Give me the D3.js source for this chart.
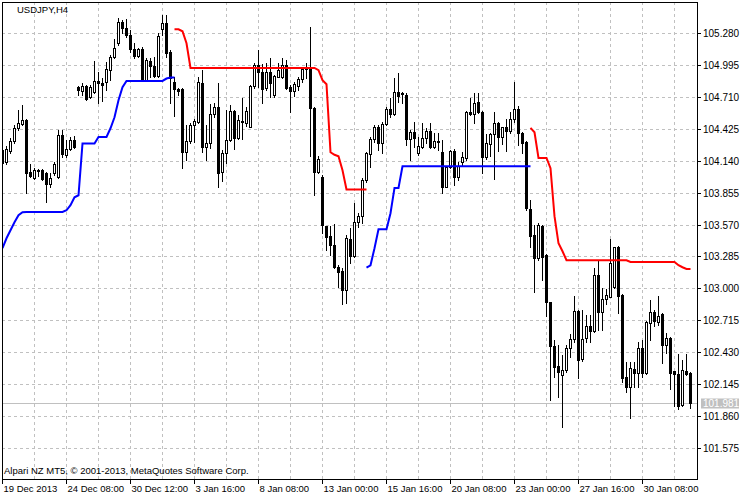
<!DOCTYPE html>
<html><head><meta charset="utf-8">
<script src="https://cdn.jsdelivr.net/npm/d3@7"></script>
<style>
html,body{margin:0;padding:0;background:#fff;}
svg{display:block;}
text{font-family:"Liberation Sans",Arial,sans-serif;font-size:9.5px;}
text.p{font-size:10px;}
</style></head><body>
<svg id="c" width="750" height="500"></svg>
<script>
const symbolTitle = "USDJPY,H4";
const footerText = "Alpari NZ MT5, \u00A9 2001-2013, MetaQuotes Software Corp.";
const priceTicks = [105.280,104.995,104.710,104.425,104.140,103.855,103.570,103.285,103.000,102.715,102.430,102.145,101.860,101.575];
const timeLabels = ["19 Dec 2013","24 Dec 08:00","30 Dec 12:00","3 Jan 16:00","8 Jan 08:00","13 Jan 00:00","15 Jan 16:00","20 Jan 08:00","23 Jan 00:00","27 Jan 16:00","30 Jan 08:00"];
const timeLabelBars = [0,16,32,48,64,80,96,112,128,144,160];
const lastPrice = 101.981;

const open = [104.238,104.131,104.229,104.318,104.434,104.470,104.506,104.041,103.988,104.059,
104.059,104.032,103.934,104.032,103.997,104.372,104.193,104.247,104.327,104.800,
104.765,104.809,104.711,104.756,104.854,104.836,104.845,104.952,105.068,105.193,
105.381,105.327,105.264,105.139,105.077,105.139,104.863,105.032,104.988,104.899,
105.318,105.372,105.113,104.845,104.782,104.782,104.220,104.318,104.461,104.488,
104.836,104.265,104.300,104.559,104.622,104.041,104.211,104.327,104.586,104.345,
104.497,104.479,104.443,104.809,104.997,104.934,104.791,104.934,104.729,104.890,
104.890,104.997,104.800,104.765,104.809,104.872,104.961,104.970,104.613,104.041,
103.997,103.559,103.470,103.390,103.193,103.157,102.988,103.443,103.291,103.595,
103.648,103.970,104.202,104.336,104.443,104.300,104.470,104.604,104.559,104.756,
104.747,104.729,104.336,104.398,104.211,104.265,104.345,104.407,104.265,104.318,
104.220,103.908,104.086,104.229,103.997,104.131,104.166,104.577,104.559,104.666,
104.577,104.175,104.291,104.381,104.479,104.354,104.443,104.407,104.515,104.604,
104.390,104.309,103.711,103.479,103.274,103.559,103.300,102.881,102.488,102.309,
102.229,102.274,102.470,102.550,102.800,102.372,102.559,102.666,102.622,103.122,
102.791,102.908,102.925,103.014,103.372,102.943,102.211,102.122,102.283,102.247,
102.470,102.247,102.693,102.791,102.702,102.774,102.497,102.559,102.265,102.238,
101.961,102.265,102.247];
const high = [104.256,104.274,104.345,104.461,104.595,104.640,104.515,104.113,104.077,104.068,
104.068,104.041,104.032,104.131,104.416,104.416,104.327,104.354,104.363,104.809,
104.836,104.818,104.818,105.032,104.934,104.881,105.023,105.086,105.229,105.416,
105.398,105.407,105.309,105.193,105.148,105.157,105.059,105.059,105.068,105.282,
105.443,105.443,105.131,104.890,104.791,104.791,104.461,104.479,104.515,104.890,
104.952,104.461,104.649,104.657,104.836,104.238,104.595,104.640,104.595,104.550,
104.702,104.622,104.818,105.014,105.131,105.005,105.014,105.059,104.908,105.014,
105.059,105.041,104.818,104.845,104.890,104.979,105.014,105.336,104.622,104.184,
104.014,103.559,103.559,103.577,103.211,103.184,103.479,103.541,103.765,103.675,
103.988,104.220,104.354,104.461,104.461,104.488,104.622,104.702,104.881,104.925,
104.756,104.747,104.416,104.488,104.354,104.479,104.434,104.479,104.390,104.390,
104.327,104.095,104.238,104.247,104.131,104.220,104.586,104.702,104.747,104.747,
104.586,104.381,104.390,104.577,104.488,104.443,104.515,104.577,104.845,104.631,
104.398,104.318,103.791,103.568,103.586,103.568,103.309,102.881,102.541,102.497,
102.407,102.497,102.595,102.934,102.809,102.809,102.764,102.764,103.184,103.247,
103.006,102.997,103.443,103.372,103.381,102.952,102.345,102.345,102.345,102.524,
102.541,102.711,102.899,102.809,102.934,102.782,102.604,102.568,102.265,102.416,
102.363,102.416,102.256];
const low = [104.113,104.113,104.211,104.300,104.416,104.461,103.854,103.997,103.979,104.005,
103.970,103.773,103.908,104.014,103.988,104.175,104.175,104.238,104.256,104.729,
104.729,104.684,104.702,104.747,104.657,104.675,104.774,104.863,105.059,105.175,
105.282,105.247,105.113,105.059,105.068,104.854,104.854,104.890,104.890,104.890,
105.264,105.068,104.657,104.541,104.729,104.077,104.149,104.300,104.309,104.479,
104.220,104.149,104.256,104.532,103.908,103.961,104.122,104.318,104.247,104.336,
104.336,104.452,104.443,104.791,104.800,104.657,104.774,104.711,104.711,104.890,
104.881,104.782,104.577,104.720,104.774,104.845,104.881,104.184,103.836,104.032,
103.497,103.345,103.300,103.184,103.014,102.863,102.872,103.229,103.282,103.550,
103.586,103.952,104.086,104.309,104.238,104.211,104.461,104.532,104.550,104.666,
104.657,104.282,104.149,104.265,104.193,104.256,104.300,104.256,104.256,104.238,
103.854,103.908,104.077,103.925,103.970,104.095,104.149,104.550,104.479,104.568,
104.032,104.157,104.184,103.979,104.229,104.291,104.229,104.390,104.488,104.282,
104.211,103.702,103.372,102.970,103.256,103.077,102.756,102.006,102.211,102.032,
101.765,102.256,102.390,102.524,102.202,102.354,102.524,102.524,102.613,102.631,
102.631,102.863,102.925,103.006,102.782,102.166,102.077,101.845,102.122,102.122,
102.211,102.238,102.541,102.666,102.675,102.336,102.425,102.104,101.952,101.925,
101.952,102.229,101.934];
const close = [104.122,104.247,104.318,104.434,104.479,104.506,104.032,104.005,104.059,104.050,
103.979,103.934,103.988,104.113,104.372,104.202,104.247,104.327,104.265,104.774,
104.809,104.693,104.800,104.854,104.836,104.818,104.961,105.068,105.148,105.381,
105.327,105.264,105.139,105.077,105.139,104.863,105.041,104.988,104.899,105.256,
105.372,105.104,104.881,104.782,104.765,104.220,104.318,104.461,104.497,104.845,
104.265,104.300,104.559,104.622,104.032,104.211,104.327,104.586,104.345,104.506,
104.488,104.586,104.809,104.997,104.934,104.782,104.934,104.836,104.899,104.952,
104.997,104.791,104.765,104.827,104.872,104.961,104.970,104.613,104.041,104.157,
103.568,103.461,103.390,103.193,103.148,102.988,103.452,103.291,103.595,103.648,
103.970,104.211,104.336,104.443,104.300,104.470,104.604,104.559,104.756,104.720,
104.738,104.336,104.398,104.345,104.274,104.345,104.407,104.265,104.318,104.309,
103.908,104.086,104.229,103.997,104.095,104.175,104.577,104.559,104.657,104.577,
104.175,104.300,104.381,104.479,104.354,104.443,104.407,104.515,104.604,104.390,
104.300,103.720,103.470,103.274,103.568,103.282,102.881,102.488,102.300,102.256,
102.274,102.470,102.550,102.800,102.363,102.550,102.666,102.622,103.122,102.791,
102.908,102.943,103.229,103.372,102.934,102.202,102.122,102.292,102.247,102.470,
102.247,102.702,102.791,102.711,102.756,102.497,102.559,102.247,102.238,101.952,
102.274,102.238,101.981];

// trailing stop indicator segments (support = blue, resistance = red)
const supportA_start = 0;
const supportA = [103.363,103.452,103.524,103.595,103.657,103.684,103.687,103.687,103.687,103.687,
103.687,103.687,103.687,103.687,103.687,103.687,103.702,103.747,103.818,103.836,
104.298,104.298,104.298,104.298,104.357,104.357,104.357,104.434,104.532,104.684,
104.800,104.857,104.857,104.857,104.857,104.857,104.857,104.857,104.857,104.857,
104.857,104.878,104.887,104.887];
const resistA_start = 43;
const resistA = [105.318,105.318,105.300,105.193,104.973,104.973,104.973,104.973,104.973,104.973,
104.973,104.973,104.973,104.973,104.973,104.973,104.973,104.973,104.973,104.973,
104.973,104.973,104.973,104.973,104.973,104.973,104.973,104.973,104.973,104.973,
104.973,104.973,104.973,104.973,104.973,104.973,104.952,104.863,104.827,104.220,
104.197,104.184,104.059,103.887,103.887,103.887,103.887,103.887,103.887];
const supportB_start = 91;
const supportB = [103.190,103.211,103.363,103.533,103.533,103.533,103.675,103.901,103.901,104.095,
104.095,104.095,104.095,104.095,104.095,104.095,104.095,104.095,104.095,104.095,
104.095,104.095,104.095,104.095,104.095,104.095,104.095,104.095,104.095,104.095,
104.095,104.095,104.095,104.095,104.095,104.095,104.095,104.095,104.095,104.095,
104.095,104.095];
const resistB_start = 132;
const resistB = [104.437,104.398,104.169,104.169,104.169,104.077,103.649,103.407,103.336,103.256,
103.256,103.256,103.256,103.256,103.256,103.256,103.256,103.256,103.256,103.256,
103.256,103.256,103.256,103.256,103.256,103.241,103.241,103.241,103.241,103.241,
103.241,103.241,103.241,103.241,103.241,103.241,103.241,103.211,103.193,103.178,
103.178];

const svg = d3.select("#c");
const L = 2, R = 697, T = 2, B = 479;
const x = d3.scaleLinear().domain([0, 172]).range([2.5, 690.5]);
const y = d3.scaleLinear().domain([101.575, 105.280]).range([448.5, 33.5]);
const cy = v => Math.floor(y(v)) + 0.5;

svg.append("rect").attr("width",750).attr("height",500).attr("fill","#fff");
svg.append("defs").append("clipPath").attr("id","plot")
  .append("rect").attr("x",L).attr("y",T).attr("width",R-L).attr("height",B-T);

const grid = svg.append("g").attr("stroke","#c0c0c0").attr("stroke-dasharray","3,3").attr("stroke-width",1);
const vBars = d3.range(8, 173, 8);
grid.selectAll("line.v").data(vBars).join("line")
  .attr("x1", d => x(d)).attr("x2", d => x(d)).attr("y1", T).attr("y2", B);
grid.selectAll("line.h").data(priceTicks).join("line")
  .attr("x1", L).attr("x2", R).attr("y1", d => cy(d)).attr("y2", d => cy(d));

// last price line
svg.append("line").attr("x1",L).attr("x2",R).attr("y1",cy(lastPrice)).attr("y2",cy(lastPrice))
  .attr("stroke","#c0c0c0").attr("stroke-width",1);

const plot = svg.append("g").attr("clip-path","url(#plot)");
const bars = d3.range(open.length).map(i => ({i, o:open[i], h:high[i], l:low[i], c:close[i]}));

plot.append("g").selectAll("line").data(bars).join("line")
  .attr("x1", d => x(d.i)).attr("x2", d => x(d.i))
  .attr("y1", d => Math.round(y(d.h))).attr("y2", d => Math.round(y(d.l)) + 1)
  .attr("stroke","#000").attr("stroke-width",1);

bars.forEach(d => {
  const top = Math.round(y(Math.max(d.o, d.c)));
  const bot = Math.round(y(Math.min(d.o, d.c)));
  const cx = x(d.i);
  if (d.c > d.o) {
    plot.append("rect").attr("x", cx - 1).attr("y", top + 0.5)
      .attr("width", 2).attr("height", Math.max(bot - top, 1))
      .attr("fill","#fff").attr("stroke","#000").attr("stroke-width",1);
  } else {
    plot.append("rect").attr("x", cx - 1.5).attr("y", top)
      .attr("width", 3).attr("height", Math.max(bot - top, 1) + 1)
      .attr("fill","#000");
  }
});

const line = s => d3.line().x((d,k) => x(s + k)).y(d => y(d));
plot.append("path").datum(supportA).attr("d", line(supportA_start)).attr("fill","none").attr("stroke","#0000ff").attr("stroke-width",2);
plot.append("path").datum(resistA).attr("d", line(resistA_start)).attr("fill","none").attr("stroke","#ff0000").attr("stroke-width",2);
plot.append("path").datum(supportB).attr("d", line(supportB_start)).attr("fill","none").attr("stroke","#0000ff").attr("stroke-width",2);
plot.append("path").datum(resistB).attr("d", line(resistB_start)).attr("fill","none").attr("stroke","#ff0000").attr("stroke-width",2);

// frame
svg.append("rect").attr("x",L+0.5).attr("y",T+0.5).attr("width",R-L).attr("height",B-T)
  .attr("fill","none").attr("stroke","#000").attr("stroke-width",1);

// price axis
const pa = svg.append("g");
pa.selectAll("line").data(priceTicks).join("line")
  .attr("x1", R).attr("x2", R + 4).attr("y1", d => cy(d)).attr("y2", d => cy(d)).attr("stroke","#000");
pa.selectAll("text").data(priceTicks).join("text").attr("class","p")
  .attr("x", R + 6).attr("y", d => cy(d) + 3.5).attr("fill","#000").text(d => d.toFixed(3));

const ly = cy(lastPrice);
svg.append("rect").attr("x", R + 4).attr("y", ly - 5).attr("width", 38).attr("height", 10).attr("fill","#c0c0c0");
svg.append("text").attr("class","p").attr("x", R + 6).attr("y", ly + 3.5).attr("fill","#fff").text(lastPrice.toFixed(3));

// time axis
const ta = svg.append("g");
ta.selectAll("line").data(timeLabelBars).join("line")
  .attr("x1", d => x(d)).attr("x2", d => x(d)).attr("y1", B).attr("y2", B + 5).attr("stroke","#000");
ta.selectAll("text").data(timeLabels).join("text")
  .attr("x", (d,k) => x(timeLabelBars[k]) + 1).attr("y", 492).attr("fill","#000").text(d => d);

svg.append("text").attr("x", 17).attr("y", 13).attr("fill","#000").text(symbolTitle);
svg.append("text").attr("x", 4).attr("y", 474).attr("fill","#000").text(footerText);
</script>
</body></html>
